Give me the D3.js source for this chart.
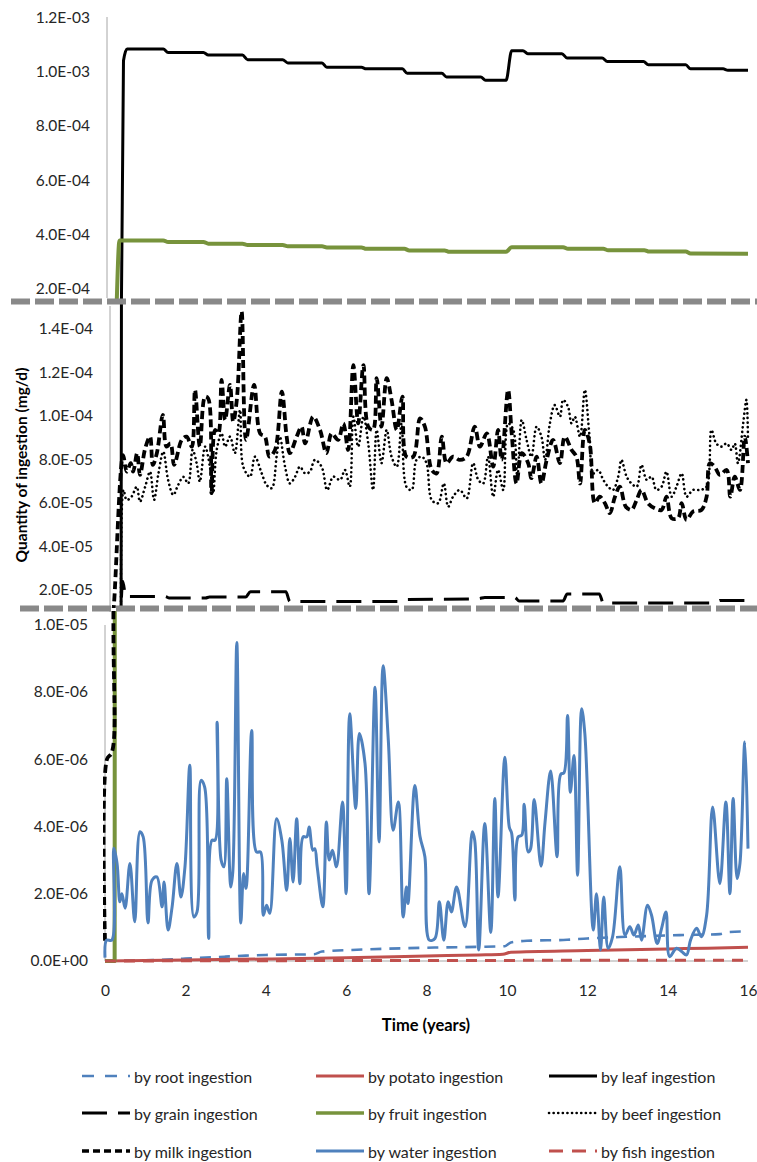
<!DOCTYPE html>
<html>
<head>
<meta charset="utf-8">
<script src="https://cdn.jsdelivr.net/npm/d3@7"></script>
<style>
  body { margin: 0; background: #fff; }
  svg { display: block; font-family: Lato, "Open Sans", sans-serif; }
</style>
</head>
<body>
<svg id="chart" width="757" height="1162"></svg>
<script>
// ---------- tick values ----------
const xTicks   = [0, 2, 4, 6, 8, 10, 12, 14, 16];
const topTicks = [2e-4, 4e-4, 6e-4, 8e-4, 1.0e-3, 1.2e-3];
const midTicks = [2e-5, 4e-5, 6e-5, 8e-5, 1.0e-4, 1.2e-4, 1.4e-4];
const botTicks = [0, 2e-6, 4e-6, 6e-6, 8e-6, 1.0e-5];

// ---------- series (time in years, values in the stated unit of mg/d) ----------
// by root ingestion (x1e-6)
const rootT = [0,1,2,2.5,3,3.5,4,5.2,5.4,6.4,7.5,8.2,9.3,9.95,10.1,10.5,11.5,12.0,13.0,14.3,15.3,15.5,16];
const rootV = [0,0.02,0.07,0.10,0.13,0.16,0.18,0.20,0.28,0.34,0.38,0.40,0.42,0.44,0.55,0.60,0.63,0.67,0.72,0.77,0.80,0.86,0.88];

// by potato ingestion (x1e-6)
const potatoT = [0,2,4,6,8,9.3,9.9,10.1,12,14,15,16];
const potatoV = [0,0.03,0.06,0.10,0.15,0.18,0.20,0.26,0.31,0.36,0.38,0.41];

// by leaf ingestion (x1e-3)
const leafT = [0,0.40,0.46,0.55,1.45,1.57,2.45,2.57,3.42,3.55,4.42,4.55,5.40,5.52,6.38,6.50,7.40,7.52,8.38,8.50,9.35,9.47,9.98,10.12,10.40,10.52,11.37,11.50,12.37,12.50,13.40,13.52,14.45,14.57,15.38,15.50,16.00];
const leafV = [0,0,1.04,1.083,1.083,1.070,1.070,1.061,1.061,1.044,1.044,1.032,1.032,1.016,1.016,1.010,1.010,0.994,0.994,0.980,0.980,0.968,0.968,1.077,1.077,1.066,1.066,1.050,1.050,1.037,1.037,1.025,1.025,1.010,1.010,1.005,1.005];

// by grain ingestion (x1e-5)
const grainT = [0.38,0.44,0.52,1.50,1.60,2.50,2.60,3.50,3.62,4.50,4.60,7.40,7.50,9.30,9.45,10.20,10.30,11.40,11.50,12.30,12.40,15.20,15.30,16.00];
const grainV = [0,2.4,1.70,1.70,1.63,1.63,1.68,1.68,1.92,1.92,1.47,1.47,1.56,1.60,1.66,1.66,1.50,1.50,1.82,1.82,1.40,1.40,1.52,1.52];

// by fruit ingestion (x1e-4)
const fruitT = [0,0.24,0.36,1.45,1.57,2.45,2.57,3.42,3.55,4.42,4.55,5.40,5.52,6.38,6.50,7.45,7.57,8.45,8.57,9.98,10.12,11.40,11.52,12.40,12.52,13.42,13.54,14.45,14.57,16.00];
const fruitV = [0,0,3.78,3.78,3.72,3.72,3.66,3.66,3.61,3.61,3.56,3.56,3.52,3.52,3.47,3.47,3.41,3.41,3.36,3.36,3.53,3.53,3.47,3.47,3.42,3.42,3.37,3.37,3.30,3.29];

// by beef ingestion (x1e-5)
const beefT = [0.40,0.46,0.54,0.66,0.79,0.87,1.00,1.12,1.22,1.33,1.45,1.57,1.70,1.82,1.95,2.07,2.18,2.28,2.36,2.49,2.61,2.69,2.78,2.90,2.99,3.11,3.23,3.36,3.44,3.61,3.73,3.90,4.02,4.15,4.27,4.35,4.48,4.60,4.73,4.85,4.98,5.10,5.22,5.39,5.53,5.68,5.85,5.97,6.09,6.18,6.30,6.43,6.55,6.67,6.76,6.88,7.01,7.13,7.26,7.38,7.50,7.63,7.75,7.88,8.00,8.13,8.29,8.43,8.54,8.66,8.83,9.00,9.16,9.29,9.41,9.53,9.66,9.78,9.91,10.03,10.16,10.26,10.37,10.49,10.61,10.74,10.86,10.95,11.07,11.19,11.32,11.40,11.52,11.61,11.69,11.82,11.94,12.05,12.15,12.27,12.40,12.52,12.64,12.77,12.85,12.98,13.10,13.23,13.35,13.48,13.60,13.72,13.85,13.97,14.10,14.22,14.35,14.47,14.63,14.80,14.97,15.09,15.21,15.34,15.47,15.59,15.67,15.75,15.88,15.96,16.00];
const beefV = [0,6.6,6.14,6.29,6.75,6.06,6.75,7.44,6.14,7.36,8.36,7.06,6.37,6.83,7.2,6.9,8.44,7.83,6.98,8.59,7.67,6.45,8.44,9.2,8.59,9.05,8.29,10.28,7.67,7.21,8.13,7.36,6.83,6.68,8.13,9.05,7.67,6.9,7.21,7.67,7.36,7.44,7.98,7.67,6.6,7.21,7.06,7.52,6.75,9.97,8.59,9.97,8.74,6.6,9.36,7.83,9.36,8.13,7.67,9.66,6.75,6.6,7.98,8.13,7.83,6.14,5.99,6.9,5.83,6.29,6.6,6.21,7.83,7.06,6.9,8.13,6.29,7.52,6.6,9.66,9.36,7.21,9.82,8.9,8.13,9.51,9.05,7.98,9.66,10.5,9.97,10.74,10.43,9.66,9.97,9.05,11.2,9.2,7.36,7.52,7.06,6.75,6.6,7.21,7.98,7.21,6.9,6.75,7.75,7.06,7.21,6.6,6.75,7.44,6.29,6.75,7.36,6.29,6.6,6.6,6.75,9.36,8.74,8.59,8.74,8.44,8.74,7.83,9.66,10.74,8.9];

// by milk ingestion (x1e-5)
const milkT = [0,0.05,0.17,0.21,0.45,0.54,0.64,0.70,0.80,0.87,1.00,1.12,1.19,1.29,1.44,1.53,1.63,1.72,1.91,2.03,2.16,2.24,2.36,2.49,2.57,2.65,2.74,2.82,2.90,2.99,3.11,3.19,3.28,3.40,3.51,3.71,3.86,3.98,4.09,4.23,4.40,4.52,4.60,4.77,4.89,4.98,5.18,5.35,5.51,5.64,5.80,5.93,6.05,6.18,6.30,6.43,6.55,6.67,6.76,6.88,7.01,7.13,7.26,7.40,7.50,7.67,7.84,7.96,8.13,8.25,8.38,8.50,8.66,8.83,9.00,9.20,9.33,9.50,9.66,9.78,9.87,10.03,10.12,10.24,10.37,10.53,10.61,10.74,10.86,10.99,11.15,11.32,11.44,11.61,11.73,11.82,11.94,12.06,12.19,12.31,12.44,12.56,12.69,12.81,12.96,13.10,13.23,13.35,13.51,13.68,13.85,13.97,14.10,14.26,14.35,14.47,14.63,14.84,14.97,15.05,15.17,15.30,15.47,15.56,15.67,15.80,15.92,16.00];
const milkV = [0.06,0.6,0.62,1.05,8.2,7.44,7.83,7.44,8.29,7.29,8.51,9.05,7.75,8.29,10.05,8.59,8.74,7.75,8.9,9.05,8.59,11.2,8.59,10.89,10.8,6.45,9.36,9.2,11.66,9.82,11.43,9.74,10.74,14.8,8.9,11.43,9.2,9.05,8.13,8.44,11.12,9.05,8.29,9.05,9.51,8.74,9.97,9.36,8.29,9.2,8.9,9.66,8.44,12.34,9.66,12.34,9.51,9.36,11.74,9.51,11.74,10.74,9.36,10.89,8.13,8.13,9.89,9.51,7.52,7.36,9.05,7.83,8.13,7.98,8.13,9.51,8.59,9.2,7.67,9.36,7.98,11.2,9.2,6.9,8.29,7.83,7.14,8.13,6.9,7.98,8.9,7.83,9.05,8.44,8.13,6.9,9.36,8.74,5.99,6.29,5.99,5.53,6.29,6.75,5.83,5.68,6.14,6.6,5.99,5.76,5.68,6.29,5.3,5.3,5.99,5.22,5.6,5.68,6.29,7.83,7.67,7.29,7.52,6.29,7.21,6.6,9.05,7.83];

// by water ingestion (x1e-6)
const waterT = [0,0.04,0.17,0.22,0.30,0.37,0.42,0.50,0.62,0.74,0.87,0.95,1.07,1.17,1.29,1.42,1.47,1.57,1.67,1.79,1.89,1.99,2.11,2.21,2.29,2.39,2.48,2.58,2.66,2.74,2.79,2.89,2.96,3.03,3.13,3.18,3.28,3.38,3.45,3.51,3.65,3.77,3.87,3.94,4.02,4.10,4.27,4.40,4.52,4.60,4.68,4.77,4.85,4.93,5.02,5.08,5.17,5.22,5.28,5.42,5.51,5.58,5.66,5.76,5.91,6.00,6.09,6.24,6.33,6.47,6.57,6.72,6.82,6.92,7.05,7.17,7.30,7.42,7.50,7.54,7.71,7.84,7.96,8.07,8.21,8.32,8.43,8.54,8.62,8.75,8.96,9.14,9.20,9.30,9.45,9.60,9.70,9.78,9.95,10.06,10.12,10.20,10.28,10.37,10.43,10.53,10.59,10.68,10.85,10.95,11.09,11.25,11.34,11.42,11.51,11.58,11.67,11.76,11.86,11.94,12.15,12.23,12.33,12.41,12.52,12.63,12.81,12.94,13.06,13.16,13.27,13.35,13.50,13.60,13.74,13.85,13.96,14.05,14.22,14.35,14.47,14.57,14.72,14.84,14.97,15.12,15.30,15.45,15.55,15.63,15.73,15.80,15.92,16.00];
const waterV = [0.1,0.62,0.62,3.35,2.9,1.76,2.0,1.57,2.9,1.17,3.84,3.69,1.13,2.4,2.5,1.61,2.35,0.92,1.61,2.9,1.9,2.8,5.82,1.31,1.46,5.37,5.17,0.67,3.59,3.59,7.1,3.0,2.8,5.42,2.2,2.65,9.47,1.13,2.6,2.16,6.85,3.24,3.24,1.36,1.66,1.42,4.23,3.59,2.1,3.64,2.35,4.23,2.3,3.69,3.69,3.98,3.29,3.34,2.8,1.61,4.13,3.0,3.29,2.8,4.73,2.0,7.35,4.53,6.76,5.87,2.0,8.14,3.54,8.78,6.56,3.89,4.73,1.31,2.2,1.71,5.22,3.69,3.1,0.62,0.67,1.76,0.62,1.76,1.46,2.2,1.02,3.84,3.59,0.33,4.09,0.85,4.83,1.9,6.06,3.98,3.79,1.81,3.69,3.74,4.66,3.24,3.34,4.8,2.82,4.13,5.65,3.1,5.55,5.59,7.3,5.02,6.11,2.55,7.5,6.76,0.92,2.0,0.33,1.9,0.38,0.72,2.8,0.77,1.02,0.77,1.07,0.62,1.66,1.36,0.52,0.97,1.46,0.13,0.38,0.28,0.18,0.62,0.97,0.72,1.36,4.58,2.3,4.73,2.0,4.83,2.45,2.9,6.51,3.34];

// by fish ingestion (x1e-6)
const fishT = [0,4,8,12,16];
const fishV = [0,0.01,0.015,0.02,0.02];

// ---------- series table (drawing order) ----------
const series = [
  { key: "root",   label: "by root ingestion",   t: rootT,   v: rootV,   unit: 1e-6, color: "#4f81bd", width: 2.6, dash: "11,8", legendDash: "12,11", curve: d3.curveMonotoneX },
  { key: "potato", label: "by potato ingestion", t: potatoT, v: potatoV, unit: 1e-6, color: "#c0504d", width: 3,   dash: null, curve: d3.curveMonotoneX },
  { key: "leaf",   label: "by leaf ingestion",   t: leafT,   v: leafV,   unit: 1e-3, color: "#000000", width: 3,   dash: null, curve: d3.curveMonotoneX },
  { key: "grain",  label: "by grain ingestion",  t: grainT,  v: grainV,  unit: 1e-5, color: "#000000", width: 3,   dash: "25,11", curve: d3.curveMonotoneX },
  { key: "fruit",  label: "by fruit ingestion",  t: fruitT,  v: fruitV,  unit: 1e-4, color: "#77933c", width: 4,   dash: null, curve: d3.curveMonotoneX },
  { key: "beef",   label: "by beef ingestion",   t: beefT,   v: beefV,   unit: 1e-5, color: "#000000", width: 2.6, dash: "0.1,4.5", cap: "round", curve: d3.curveCatmullRom.alpha(0.5) },
  { key: "milk",   label: "by milk ingestion",   t: milkT,   v: milkV,   unit: 1e-5, color: "#000000", width: 3.8, dash: "8,4", legendDash: "7,4", curve: d3.curveCatmullRom.alpha(0.5) },
  { key: "water",  label: "by water ingestion",  t: waterT,  v: waterV,  unit: 1e-6, color: "#4f81bd", width: 3,   dash: null, curve: d3.curveCatmullRom.alpha(0.5) },
  { key: "fish",   label: "by fish ingestion",   t: fishT,   v: fishV,   unit: 1e-6, color: "#c0504d", width: 3,   dash: "11,8", legendDash: "14,9", curve: d3.curveMonotoneX }
];
series.forEach(s => { s.points = s.t.map((t, i) => [t, s.v[i] * s.unit]); });

// ---------- layout ----------
const svg = d3.select("#chart");
const x = d3.scaleLinear().domain([0, 16]).range([105, 748]);

// three stacked value bands sharing one time axis
const panels = [
  { key: "top", y: d3.scaleLinear().domain([2e-4, 1.2e-3]).range([288.7, 17.3]),
    clip: [0, 300], axisX: 107, axisSpan: [17, 298], ticks: topTicks, show: ["leaf", "fruit"] },
  { key: "mid", y: d3.scaleLinear().domain([2e-5, 1.4e-4]).range([590, 329]),
    clip: [303, 608], axisX: 110, axisSpan: [306, 612], ticks: midTicks, show: ["leaf", "grain", "beef", "milk"] },
  { key: "bot", y: d3.scaleLinear().domain([0, 1e-5]).range([961, 624.6]),
    clip: [611, 975], axisX: 105, axisSpan: [625, 961], ticks: botTicks, show: ["root", "potato", "fruit", "milk", "water", "fish"] }
];

function sci(v) {
  if (v === 0) return "0.0E+00";
  const [m, e] = v.toExponential(1).split("e");
  const n = +e;
  return m + "E" + (n < 0 ? "-" : "+") + String(Math.abs(n)).padStart(2, "0");
}

const defs = svg.append("defs");

// bottom time axis line
svg.append("line")
  .attr("x1", x(0)).attr("x2", x(16))
  .attr("y1", panels[2].y(0)).attr("y2", panels[2].y(0))
  .attr("stroke", "#a6a6a6").attr("stroke-width", 1);

panels.forEach(p => {
  // value axis line
  svg.append("line")
    .attr("x1", p.axisX).attr("x2", p.axisX)
    .attr("y1", p.axisSpan[0]).attr("y2", p.axisSpan[1])
    .attr("stroke", "#a6a6a6").attr("stroke-width", 1);

  // value axis labels
  const ax = svg.append("g")
    .attr("transform", `translate(${p.axisX},0)`)
    .call(d3.axisLeft(p.y).tickValues(p.ticks).tickFormat(sci).tickSize(0).tickPadding(17));
  ax.select(".domain").remove();
  ax.selectAll("text").attr("font-size", 15.5).attr("fill", "#262626")
    .attr("font-family", "Lato, 'Open Sans', sans-serif");

  // clipped lines
  const cid = "clip-" + p.key;
  defs.append("clipPath").attr("id", cid)
    .append("rect").attr("x", x(0) - 2).attr("y", p.clip[0])
    .attr("width", 757 - x(0) + 2).attr("height", p.clip[1] - p.clip[0]);

  const g = svg.append("g").attr("clip-path", `url(#${cid})`);
  series.filter(s => p.show.includes(s.key)).forEach(s => {
    const line = d3.line().x(d => x(d[0])).y(d => p.y(d[1])).curve(s.curve);
    g.append("path")
      .datum(s.points)
      .attr("d", line)
      .attr("fill", "none")
      .attr("stroke", s.color)
      .attr("stroke-width", s.width)
      .attr("stroke-dasharray", s.dash)
      .attr("stroke-linecap", s.cap || "butt")
      .attr("stroke-linejoin", "round");
  });
});

// break markers between the bands
[[11, 301.5], [20, 608.5]].forEach(([x0, yy]) => {
  svg.append("line")
    .attr("x1", x0).attr("x2", 757).attr("y1", yy).attr("y2", yy)
    .attr("stroke", "#898989").attr("stroke-width", 6)
    .attr("stroke-dasharray", "19,5");
});

// time axis labels
const xa = svg.append("g")
  .attr("transform", `translate(0,${panels[2].y(0)})`)
  .call(d3.axisBottom(x).tickValues(xTicks).tickFormat(d3.format("d")).tickSize(0).tickPadding(24));
xa.select(".domain").remove();
xa.selectAll("text").attr("font-size", 15.5).attr("fill", "#262626")
  .attr("font-family", "Lato, 'Open Sans', sans-serif");

// axis titles
svg.append("text")
  .attr("x", 426).attr("y", 1031)
  .attr("text-anchor", "middle")
  .attr("font-size", 16.5).attr("font-weight", "bold").attr("fill", "#000")
  .text("Time (years)");

svg.append("text")
  .attr("transform", "translate(21,465) rotate(-90)")
  .attr("text-anchor", "middle").attr("dominant-baseline", "central")
  .attr("font-size", 15.5).attr("font-weight", "bold").attr("fill", "#000")
  .text("Quantity of ingestion (mg/d)");

// legend: three columns, three rows
const legCols = [82, 316, 549];
const legRows = [1076, 1113, 1151];
const legLen = 48;
series.forEach((s, i) => {
  const cx = legCols[i % 3], cy = legRows[Math.floor(i / 3)];
  const g = svg.append("g");
  g.append("line")
    .attr("x1", cx).attr("x2", cx + legLen).attr("y1", cy).attr("y2", cy)
    .attr("stroke", s.color).attr("stroke-width", Math.min(s.width, 3.4))
    .attr("stroke-dasharray", s.legendDash || s.dash)
    .attr("stroke-linecap", s.cap || "butt");
  g.append("text")
    .attr("x", cx + legLen + 4).attr("y", cy)
    .attr("dominant-baseline", "central")
    .attr("font-size", 16).attr("fill", "#262626")
    .text(s.label);
});
</script>
</body>
</html>
